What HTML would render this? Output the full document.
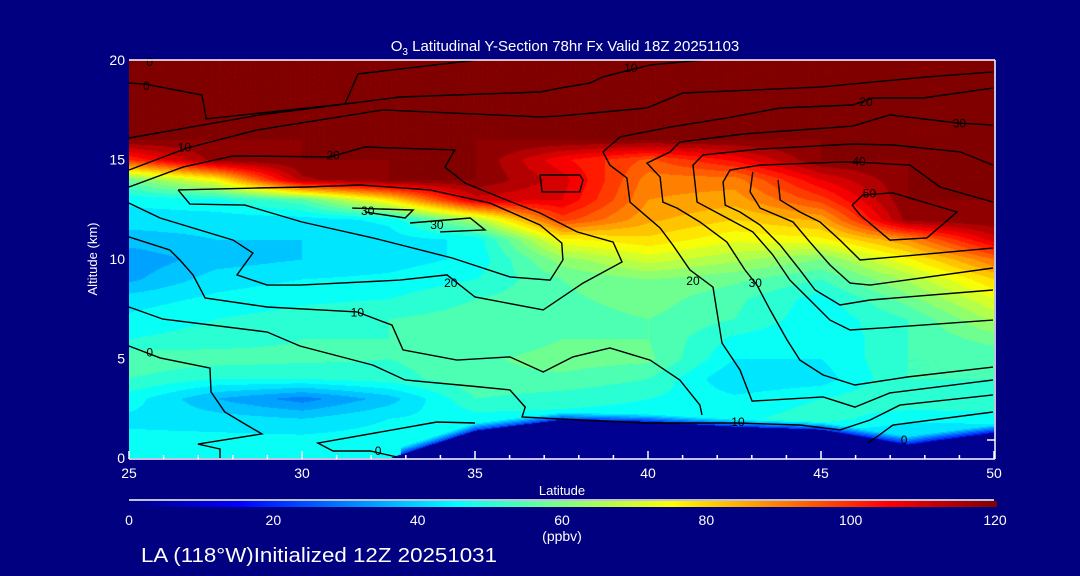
<!DOCTYPE html>
<html><head><meta charset="utf-8">
<style>
html,body{margin:0;padding:0;background:#000080;}
#wrap{position:relative;width:1080px;height:576px;background:#000080;overflow:hidden;font-family:"Liberation Sans",sans-serif;}
canvas{position:absolute;}
svg{position:absolute;left:0;top:0;}
</style></head>
<body>
<div id="wrap">
<canvas id="field" width="865" height="398" style="left:129px;top:60px"></canvas>
<canvas id="cbar" width="868" height="6" style="left:129px;top:501px"></canvas>
<svg id="ov" width="1080" height="576"></svg>
</div>
<script>
// ---- data ----
const lats = [25,27.5,30,32.5,35,37.5,40,42.5,45,47.5,50];
const alts = [0,1,2,3,4,5,6,7,8,9,10,11,12,13,14,15,16,17,18,19,20];
const ozone = [
 [46,46,46,44,45,46,45,45,45,40,40],
 [45,45,45,46,46,46,45,45,40,40,35],
 [43,42,40,44,46,46,46,47,50,45,47],
 [46,36,30,38,52,50,48,45,48,52,50],
 [52,48,48,50,55,55,52,40,42,52,52],
 [55,54,53,52,55,58,57,44,44,52,52],
 [48,50,52,52,52,56,56,47,44,52,58],
 [45,48,50,52,54,54,56,52,45,52,65],
 [42,45,47,48,52,55,58,53,46,58,72],
 [35,42,44,45,48,56,60,57,52,65,80],
 [33,38,40,42,45,62,70,65,60,75,92],
 [38,40,40,42,45,75,79,73,75,88,110],
 [42,42,42,45,65,98,85,80,85,118,120],
 [45,47,55,78,110,108,88,86,98,120,120],
 [58,75,115,120,120,110,90,90,108,120,120],
 [100,118,120,120,120,105,95,105,120,120,120],
 [120,120,120,120,120,120,120,120,120,120,120],
 [120,120,120,120,120,120,120,120,120,120,120],
 [120,120,120,120,120,120,120,120,120,120,120],
 [120,120,120,120,120,120,120,120,120,120,120],
 [120,120,120,120,120,120,120,120,120,120,120]
];
const terrain = [0,0,0,0,1.4,1.95,1.85,1.6,1.45,0.7,1.3];
const xTicks = [25,30,35,40,45,50];
const yTicks = [0,5,10,15,20];
const cbTicks = [0,20,40,60,80,100,120];
const contours = [
 {v:"0", pts:[[25,18.84],[25.46,18.79],[27.11,18.24],[27.23,17.04],[31.24,17.79],[31.62,19.3],[35.06,20]]},
 {v:"10", pts:[[25,16.08],[28.79,17.24],[32.83,18.14],[36.88,18.39],[37.46,18.59],[38.32,18.84],[38.7,19.15],[39.48,19.5],[40.06,19.75],[41.59,20]]},
 {v:"20", pts:[[25,14.47],[26.68,15.58],[28.7,16.48],[32.34,17.49],[36.88,17.14],[37.46,17.19],[39.97,17.59],[41.01,18.34],[44.97,18.64],[48.06,19.15],[49.97,19.4]]},
 {v:"20", pts:[[25,12.81],[25.9,12.06],[28.01,10.95],[28.58,10.3],[28.12,9.2],[28.99,8.69],[29.94,8.69],[32.83,8.94],[34.19,9.2],[35,8.09],[36.97,7.44],[38.12,8.79],[39.25,9.85],[38.99,10.85],[37.95,11.36],[36.88,12.31],[35.92,12.96],[34.71,13.82],[34.13,14.62],[34.42,15.48],[31.82,15.63],[30.81,15.13],[28.01,15.18],[26.56,14.62],[25,13.62]]},
 {v:"30", pts:[[26.42,13.47],[28.7,13.57],[30.14,13.62],[31.68,13.72],[33.7,13.47],[35.43,12.81],[36.88,11.71],[37.51,10.8],[37.54,9.95],[37.17,8.94],[36.01,9.1],[34.34,10.05],[32.05,11.06],[30,11.86],[28.35,12.71],[26.76,12.76],[26.42,13.47]]},
 {v:"30", pts:[[31.45,12.56],[33.21,12.46],[32.98,12.06],[31.82,12.36]]},
 {v:"30", pts:[[33.12,11.81],[34.86,12.06],[35.29,11.46],[33.99,11.36]]},
 {v:"40", pts:[[36.88,14.22],[38.03,14.22],[38.12,13.97],[38.03,13.37],[36.94,13.37],[36.88,14.22]]},
 {v:"20", pts:[[49.97,18.59],[47.95,18.09],[46.5,18.09],[45.92,17.74],[43.82,17.59],[42.28,17.09],[40.64,16.63],[39.19,16.13],[38.7,15.38],[38.9,14.72],[39.39,14.07],[39.48,12.86],[40.35,11.56],[40.72,10.7],[41.21,9.45],[41.88,8.59],[42.14,5.78],[42.66,4.42],[43.01,2.86],[45.06,3.07],[45.98,2.56],[46.99,3.27],[49.97,3.92]]},
 {v:"30", pts:[[49.97,16.73],[48.96,16.83],[46.99,17.24],[45.92,16.68],[42.75,16.28],[40.92,15.88],[40.64,15.38],[39.97,14.82],[40.35,14.12],[40.43,12.86],[40.84,12.56],[41.5,11.86],[42.28,10.85],[42.8,9.45],[43.15,8.69],[43.53,7.44],[44.02,5.93],[44.39,4.92],[45.06,4.17],[45.98,3.67],[47.49,4.07],[49.97,4.57]]},
 {v:"40", pts:[[49.97,14.72],[49.02,15.38],[47.08,15.73],[45.92,15.78],[43.24,15.53],[41.59,15.23],[41.3,14.72],[41.42,12.86],[42.28,12.06],[43.03,11.36],[43.61,10.2],[44.1,8.94],[44.68,7.94],[45.26,6.93],[45.84,6.43],[46.71,6.53],[49.97,6.93]]},
 {v:"40", pts:[[49.97,12.86],[48.44,13.62],[47.57,14.72],[46.04,14.87],[45.55,14.87],[43.24,14.72],[42.37,14.47],[42.17,13.87],[42.23,12.71],[42.66,12.36],[43.24,11.71],[43.82,10.7],[44.39,9.45],[44.83,8.44],[45.55,7.69],[46.42,7.94],[49.97,8.44]]},
 {v:"40", pts:[[43.03,14.37],[42.95,13.37],[43.24,12.56],[44.19,11.86],[44.68,10.85],[45.26,9.7],[45.84,8.79],[46.42,8.69],[49.97,9.55]]},
 {v:"40", pts:[[43.76,13.97],[43.82,12.96],[44.39,12.36],[44.97,11.86],[45.55,10.95],[46.13,9.95],[49.97,10.55]]},
 {v:"50", pts:[[45.9,12.71],[46.21,13.22],[47.08,13.32],[48.93,12.36],[48.06,11.06],[46.99,10.95],[46.13,12.21],[45.9,12.71]]},
 {v:"0", pts:[[25,5.63],[25.9,5.03],[27.34,4.52],[27.37,3.32],[27.77,2.31],[28.35,1.71],[28.84,1.21],[26.99,0.7],[27.63,0.45],[27.63,0]]},
 {v:"10", pts:[[25,7.59],[25.98,6.98],[28.99,6.33],[29.94,5.63],[32.05,4.67],[32.98,3.92],[34.86,3.62],[36.01,3.42],[36.45,2.56],[36.36,2.06],[37.46,1.96],[39.97,1.76],[42.57,1.76],[44.39,1.66],[45.55,1.41],[46.42,1.91],[47.28,2.66],[49.97,3.17]]},
 {v:"10", pts:[[25,11.11],[26.18,10.45],[26.47,9.95],[26.85,9.2],[27.2,8.04],[28.99,7.59],[31.59,7.34],[32.6,6.68],[32.92,5.43],[34.48,4.92],[36.01,5.08],[36.97,4.32],[37.83,5.08],[38.9,5.53],[40.06,4.92],[40.92,3.92],[41.5,2.66],[41.56,2.16]]},
 {v:"0", pts:[[35,1.76],[33.9,1.81],[30.46,0.75],[30.9,0.35],[31.97,0.35],[32.75,0.05]]},
 {v:"0", pts:[[46.36,0.75],[47.08,1.66],[49.97,2.31]]}
];
const contourLabels = [
 ["0",25.6,19.9],["0",25.5,18.7],["10",26.6,15.6],["20",30.9,15.2],["30",31.9,12.4],["30",33.9,11.7],
 ["10",39.5,19.6],["20",46.3,17.9],["30",49.0,16.8],["40",46.1,14.9],["50",46.4,13.3],
 ["20",41.3,8.9],["30",43.1,8.8],["10",31.6,7.3],["20",34.3,8.8],["0",25.6,5.3],["0",32.2,0.35],["10",42.6,1.8],["0",47.4,0.9]
];
// ---- scales ----
const X0=129,X1=994,Y0=458,Y1=60;
const xs = l => X0 + (l-25)/25*(X1-X0);
const ys = a => Y0 - a/20*(Y0-Y1);
function jet(v){
 const st=[[0,0,0,128],[15,0,0,255],[45,0,255,255],[75,255,255,0],[105,255,0,0],[120,128,0,0]];
 v=Math.max(0,Math.min(120,v));
 for(let i=0;i<st.length-1;i++){const a=st[i],b=st[i+1];
  if(v<=b[0]){const t=(v-a[0])/(b[0]-a[0]);return [a[1]+(b[1]-a[1])*t,a[2]+(b[2]-a[2])*t,a[3]+(b[3]-a[3])*t];}}
 return [128,0,0];
}
function interpLat(arr,l){const f=(l-25)/2.5;const i=Math.min(lats.length-2,Math.max(0,Math.floor(f)));const t=f-i;return arr[i]*(1-t)+arr[i+1]*t;}
function field(l,a){
 const f=(l-25)/2.5;const i=Math.min(lats.length-2,Math.max(0,Math.floor(f)));const t=f-i;
 const j=Math.min(alts.length-2,Math.max(0,Math.floor(a)));const u=a-j;
 return ozone[j][i]*(1-t)*(1-u)+ozone[j][i+1]*t*(1-u)+ozone[j+1][i]*(1-t)*u+ozone[j+1][i+1]*t*u;
}
// ---- field canvas ----
const cv=document.getElementById('field');const ctx=cv.getContext('2d');
const img=ctx.createImageData(865,398);
for(let py=0;py<398;py++){const a=(398-py)/398*20;
 for(let px=0;px<865;px++){const l=25+px/865*25;
  let v=field(l,a);const tr=interpLat(terrain,l);
  if(a<tr) v=0; else if(tr>0.2 && a-tr<0.4) v*=0.45+(a-tr)/0.4*0.55;
  v=Math.floor(v/4)*4+2;
  const c=jet(v);const k=(py*865+px)*4;
  img.data[k]=c[0];img.data[k+1]=c[1];img.data[k+2]=c[2];img.data[k+3]=255;}}
ctx.putImageData(img,0,0);
// ---- colorbar ----
const cb=document.getElementById('cbar').getContext('2d');
for(let px=0;px<868;px++){const c=jet(px/867*120);cb.fillStyle=`rgb(${c[0]|0},${c[1]|0},${c[2]|0})`;cb.fillRect(px,0,1,6);}
// ---- overlay ----
const NS='http://www.w3.org/2000/svg';const svg=document.getElementById('ov');
function mk(tag,attrs,parent){const e=document.createElementNS(NS,tag);for(const k in attrs)e.setAttribute(k,attrs[k]);(parent||svg).appendChild(e);return e;}
const cg=mk('g',{});


contours.forEach((c,i)=>{
 const p=mk('polyline',{points:c.pts.map(q=>xs(q[0]).toFixed(1)+','+ys(q[1]).toFixed(1)).join(' '),fill:'none',stroke:'#000','stroke-width':1.4},cg);
 
 
});
contourLabels.forEach(lb=>{
 const t=mk('text',{x:xs(lb[1]),y:ys(lb[2])+4,'font-size':12,fill:'#000','text-anchor':'middle','font-family':'Liberation Sans, sans-serif'},cg);
 t.textContent=lb[0];
 
 
});
// axes frame
const ax=mk('g',{stroke:'#fff','stroke-width':1.5,fill:'none'});


mk('line',{x1:X0,y1:Y0+1,x2:X1+1,y2:Y0+1},ax);
mk('line',{x1:X0,y1:Y1,x2:X1+1,y2:Y1},ax);
mk('line',{x1:X1+1,y1:Y1,x2:X1+1,y2:Y0+1},ax);
for(let l=25;l<=50;l++){const maj=l%5===0;mk('line',{x1:xs(l),y1:Y0+1,x2:xs(l),y2:Y0+1-(maj?8:4)},ax);}
mk('line',{x1:X1+1,y1:440,x2:X1-7,y2:440},ax);
const tg=mk('g',{fill:'#fff','font-family':'Liberation Sans, sans-serif','font-size':14});


xTicks.forEach(l=>{const t=mk('text',{x:xs(l),y:478,'text-anchor':'middle'},tg);t.textContent=l;
 
 });
yTicks.forEach(a=>{const t=mk('text',{x:125,y:ys(a)+5,'text-anchor':'end'},tg);t.textContent=a;
 
 });
cbTicks.forEach(v=>{const t=mk('text',{x:129+v/120*866,y:525,'text-anchor':'middle'},tg);t.textContent=v;
 
 });
mk('line',{x1:129,y1:500,x2:994,y2:500,stroke:'#fff','stroke-width':1.5},tg);
function txt(s,attrs,name){const t=mk('text',attrs,tg);t.textContent=s;return t;}
const title=mk('text',{x:565,y:51,'text-anchor':'middle','font-size':15,fill:'#fff'},tg);


title.innerHTML='O<tspan dy="4" font-size="10">3</tspan><tspan dy="-4"> Latitudinal Y-Section 78hr  Fx Valid 18Z 20251103</tspan>';
txt('Latitude',{x:562,y:495,'text-anchor':'middle','font-size':13},'x-axis-title');
txt('Altitude (km)',{x:97,y:259,'text-anchor':'middle','font-size':13,transform:'rotate(-90 97 259)'},'y-axis-title');
txt('(ppbv)',{x:562,y:541,'text-anchor':'middle','font-size':14},'colorbar-unit');
txt('LA (118°W)Initialized 12Z 20251031',{x:141,y:562,'font-size':20,textLength:356,lengthAdjust:'spacingAndGlyphs'},'footer-text');
</script>
</body></html>
